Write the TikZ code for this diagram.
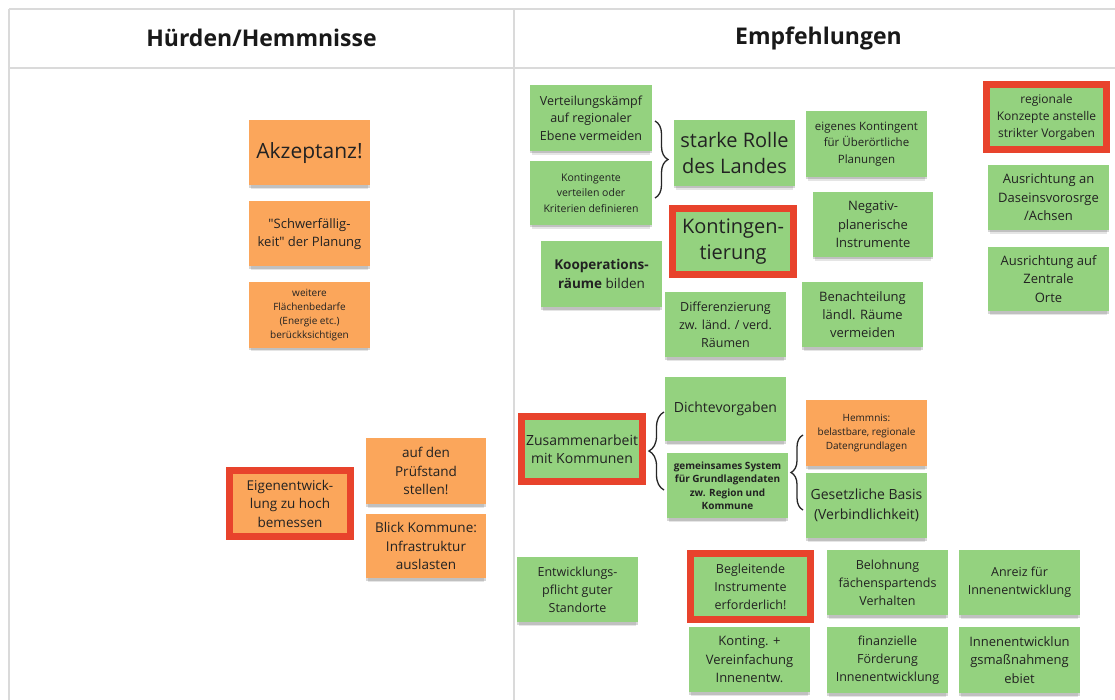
\documentclass[tikz,border=0pt]{standalone}
\usepackage{fontspec}
\setmainfont{Open Sans}
\usetikzlibrary{shadows,decorations.pathreplacing}
\definecolor{stG}{HTML}{94D27F}
\definecolor{stO}{HTML}{FBA65B}
\definecolor{stR}{HTML}{E8432C}
\definecolor{txt}{HTML}{222222}
\definecolor{gridc}{HTML}{DADADA}
\newcommand{\fsz}[2]{\fontsize{#1}{#2}\selectfont}
\newcommand{\dq}{\XeTeXglyph\XeTeXcharglyph"22\relax}
\tikzset{
  sticky/.style={rectangle, minimum width=121pt, minimum height=65pt, inner sep=2pt,
    align=center, text=txt,
    general shadow={fill=black, opacity=0.10, shadow yshift=-5pt, shadow scale=0.97},
    general shadow={fill=black, opacity=0.16, shadow yshift=-2.5pt}},
  gs/.style={sticky, fill=stG},
  os/.style={sticky, fill=stO},
  redframe/.style={draw=stR, line width=7.5pt},
  brc/.style={decorate, decoration={brace, amplitude=#1}, line width=1.3pt, draw=black!85},
  gridline/.style={draw=gridc, line width=1.4pt},
  head/.style={font=\bfseries\fsz{23}{26}, text=black!90},
}
\begin{document}
\begin{tikzpicture}[x=1pt,y=-1pt]
\useasboundingbox[fill=white] (0,0) rectangle (1115,700);
% table frame
\coordinate (tl) at (9,9);
\coordinate (tr) at (1115,9);
\coordinate (hl) at (9,68);
\coordinate (hr) at (1115,68);
\coordinate (bl) at (9,700);
\coordinate (dt) at (514,9);
\coordinate (db) at (514,700);
\draw[gridline] (tl) -- (tr);
\draw[gridline] (hl) -- (hr);
\draw[gridline] (tl) -- (bl);
\draw[gridline] (dt) -- (db);
\node[head] (h1) at (261.5,38) {Hürden/Hemmnisse};
\node[head] (h2) at (818.5,38) {Empfehlungen};

% left column
\node[os, font=\fsz{21}{26}] (akz) at (309.5,153) {Akzeptanz!};
\node[os, font=\fsz{13}{18}] (schw) at (309.5,234) {\dq Schwerfällig-\\keit\dq{} der Planung};
\node[os, font=\fsz{10}{13.8}] (weit) at (309.5,315) {weitere\\Flächenbedarfe\\(Energie etc.)\\berückksichtigen};
\node[os, redframe, minimum width=121pt, minimum height=66pt, font=\fsz{13.5}{18.5}] (eig) at (290,503.5) {Eigenentwick-\\lung zu hoch\\bemessen};
\node[os, minimum width=120pt, minimum height=66pt, font=\fsz{13.5}{18.5}] (pruef) at (426,471) {auf den\\Prüfstand\\stellen!};
\node[os, minimum width=120pt, minimum height=64pt, font=\fsz{13.5}{18.5}] (blick) at (426,546) {Blick Kommune:\\Infrastruktur\\auslasten};

% right column
\node[gs, minimum width=122pt, minimum height=66pt, font=\fsz{12.5}{17.5}] (vert) at (591,118) {Verteilungskämpf\\auf regionaler\\Ebene vermeiden};
\node[gs, minimum width=122pt, minimum height=64pt, font=\fsz{10.5}{15.5}] (kont) at (591,193) {Kontingente\\verteilen oder\\Kriterien definieren};
\node[gs, minimum height=66pt, font=\fsz{20}{26}] (stark) at (734.5,153) {starke Rolle\\des Landes};
\node[gs, redframe, minimum height=66pt, font=\fsz{20}{25.5}] (kontg) at (733,241.5) {Kontingen-\\tierung};
\node[gs, minimum height=66pt, font=\fsz{13.5}{19.5}] (koop) at (601.5,274) {\textbf{Kooperations-}\\\textbf{räume} bilden};
\node[gs, font=\fsz{12.5}{18}] (diff) at (725.5,324.5) {Differenzierung\\zw. länd. / verd.\\Räumen};
\node[gs, minimum height=66pt, font=\fsz{11.5}{16.5}] (eigk) at (866.5,144) {eigenes Kontingent\\für Überörtliche\\Planungen};
\node[gs, minimum width=120pt, font=\fsz{13}{18.5}] (neg) at (873,224.5) {Negativ-\\planerische\\Instrumente};
\node[gs, font=\fsz{13}{18}] (bena) at (862.5,314.5) {Benachteilung\\ländl. Räume\\vermeiden};
\node[gs, redframe, minimum width=120pt, minimum height=65pt, font=\fsz{12}{17}] (regk) at (1046.5,117) {regionale\\Konzepte anstelle\\strikter Vorgaben};
\node[gs, font=\fsz{13}{18.5}] (ausa) at (1048.5,197.5) {Ausrichtung an\\Daseinsvorosrge\\/Achsen};
\node[gs, minimum height=64pt, font=\fsz{13}{18.5}] (ausz) at (1048.5,279) {Ausrichtung auf\\Zentrale\\Orte};
\node[gs, redframe, font=\fsz{14}{18.5}] (zus) at (582,449) {Zusammenarbeit\\mit Kommunen};
\node[gs, minimum height=64pt, font=\fsz{14}{19}] (dicht) at (725.5,409) {Dichtevorgaben};
\node[gs, font=\bfseries\fsz{10}{13.5}] (gem) at (727.5,485.5) {gemeinsames System\\für Grundlagendaten\\zw. Region und\\Kommune};
\node[os, minimum height=66pt, font=\fsz{10}{14}] (hemm) at (866.5,433) {Hemmnis:\\belastbare, regionale\\Datengrundlagen};
\node[gs, font=\fsz{14}{20}] (gesetz) at (866.5,505.5) {Gesetzliche Basis\\(Verbindlichkeit)};
\node[gs, font=\fsz{12.5}{18}] (entw) at (577.5,589.5) {Entwicklungs-\\pflicht guter\\Standorte};
\node[gs, redframe, minimum width=120pt, minimum height=66pt, font=\fsz{12.5}{18}] (begl) at (750.5,586.5) {Begleitende\\Instrumente\\erforderlich!};
\node[gs, font=\fsz{13}{18.5}] (konting) at (749.5,659.5) {Konting. +\\Vereinfachung\\Innenentw.};
\node[gs, font=\fsz{12.5}{18}] (belo) at (887.5,582.5) {Belohnung\\fächenspartends\\Verhalten};
\node[gs, font=\fsz{12.5}{18}] (anr) at (1019.5,582.5) {Anreiz für\\Innenentwicklung};
\node[gs, minimum height=66pt, font=\fsz{12.5}{18}] (fin) at (887.5,660) {finanzielle\\Förderung\\Innenentwicklung};
\node[gs, minimum height=66pt, font=\fsz{13}{18.5}] (innen) at (1019.5,660) {Innenentwicklun\\gsmaßnahmeng\\ebiet};

% braces
\coordinate (b1a) at (655,121);
\coordinate (b1b) at (655,198);
\draw[brc=13pt] (b1a) -- (b1b);
\coordinate (b2a) at (664,490);
\coordinate (b2b) at (664,412);
\draw[brc=15pt] (b2a) -- (b2b);
\coordinate (b3a) at (803,510);
\coordinate (b3b) at (803,435);
\draw[brc=12pt] (b3a) -- (b3b);
\end{tikzpicture}
\end{document}
